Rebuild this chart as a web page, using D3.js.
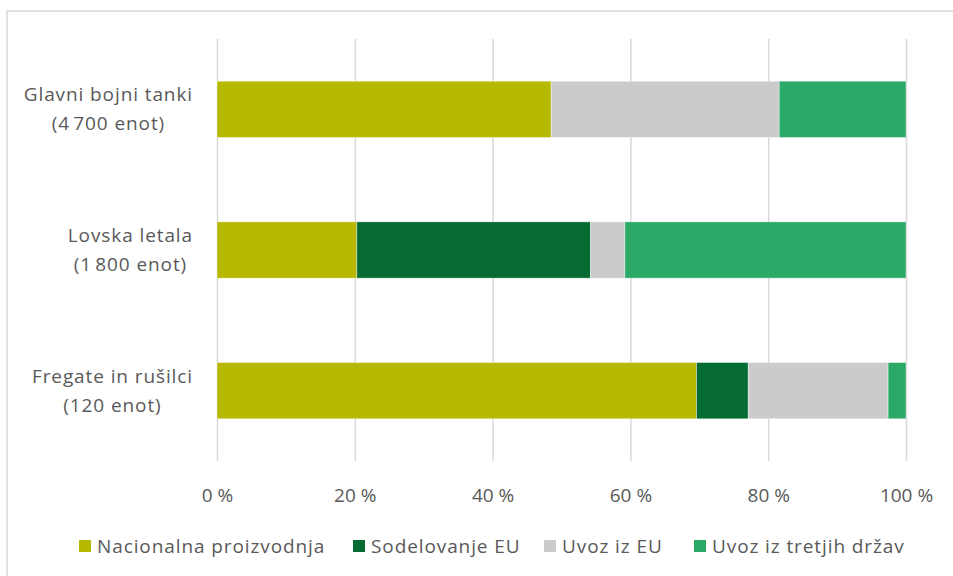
<!DOCTYPE html>
<html><head><meta charset="utf-8">
<script src="https://cdn.jsdelivr.net/npm/d3@7"></script>
<style>
body{margin:0;background:#fff;}
text{font-family:"Open Sans","Liberation Sans",sans-serif;fill:#595959;}
</style></head>
<body><svg id="c" width="953" height="576"></svg>
<script>
const categories = [["Glavni bojni tanki","(4\u202F700 enot)"],["Lovska letala","(1\u202F800 enot)"],["Fregate in rušilci","(120 enot)"]];
const seriesNames = ["Nacionalna proizvodnja","Sodelovanje EU","Uvoz iz EU","Uvoz iz tretjih držav"];
const nacionalna = [48.5, 20.3, 69.6];
const sodelovanje = [0, 33.9, 7.5];
const uvozEU = [33.1, 5.0, 20.3];
const uvozTretje = [18.4, 40.8, 2.6];
const tickValues = [0,20,40,60,80,100];
const colors = ["#B7B900","#066A33","#CBCBCD","#2BAA67"];

const FS = 19;
const LS = 0.9;

const svg = d3.select("#c");
svg.append("rect").attr("x",7).attr("y",11).attr("width",980).attr("height",620)
  .attr("fill","#fff").attr("stroke","#E2E2E2").attr("stroke-width",2);

const x0=217, x1=906, yTop=39, yBot=461;
const x = d3.scaleLinear().domain([0,100]).range([x0,x1]);
const keys = categories.map((c,i)=>i);
const y = d3.scaleBand().domain(keys).range([yTop,yBot]).paddingInner(0.6).paddingOuter(0.3);

svg.append("g").selectAll("line").data(tickValues).join("line")
  .attr("x1",d=>x(d)+0.5).attr("x2",d=>x(d)+0.5).attr("y1",yTop).attr("y2",yBot)
  .attr("stroke","#D9D9D9").attr("stroke-width",1.5);

const stackData = categories.map((c,i)=>({i, s0:nacionalna[i], s1:sodelovanje[i], s2:uvozEU[i], s3:uvozTretje[i]}));
const stack = d3.stack().keys(["s0","s1","s2","s3"])(stackData);

svg.append("g").selectAll("g").data(stack).join("g").attr("fill",(d,k)=>colors[k])
  .selectAll("rect").data(d=>d).join("rect")
  .attr("x",d=>x(d[0])).attr("width",d=>Math.max(0,x(d[1])-x(d[0])))
  .attr("y",d=>y(d.data.i)).attr("height",y.bandwidth())
  .attr("stroke","#fff").attr("stroke-opacity",0.5).attr("stroke-width",d=>(d[1]-d[0])>0?0.75:0);

const xAxis = d3.axisBottom(x).tickValues(tickValues).tickFormat(d=>d+"\u00A0%").tickSize(0).tickPadding(0);
const gx = svg.append("g").attr("transform",`translate(0,${yBot+27})`).call(xAxis);
gx.select(".domain").remove();
gx.selectAll("text").attr("font-size",FS).attr("fill","#595959").attr("font-family",null);

const gy = svg.append("g");
categories.forEach((c,i)=>{
  const cy = y(i)+y.bandwidth()/2;
  const t = gy.append("g");
  const l1 = t.append("text").text(c[0]).attr("font-size",FS).attr("letter-spacing",LS).attr("y",cy-14+6).attr("text-anchor","middle");
  const l2 = t.append("text").text(c[1]).attr("font-size",FS).attr("letter-spacing",LS).attr("y",cy+15+6).attr("text-anchor","middle");
  const w = Math.max(l1.node().getComputedTextLength(), l2.node().getComputedTextLength());
  const cx = 193 - w/2;
  l1.attr("x",cx); l2.attr("x",cx);
});

const legendX = [79, 353, 544, 694];
const lg = svg.append("g");
seriesNames.forEach((n,k)=>{
  lg.append("rect").attr("x",legendX[k]).attr("y",540).attr("width",12).attr("height",12).attr("fill",colors[k]);
  lg.append("text").attr("x",legendX[k]+18).attr("y",553).attr("font-size",FS).attr("letter-spacing",LS).text(n);
});
</script></body></html>
